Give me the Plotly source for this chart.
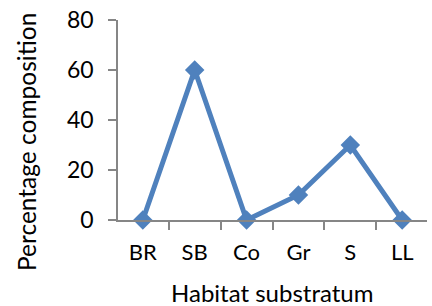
import plotly.graph_objects as go

categories = ["BR", "SB", "Co", "Gr", "S", "LL"]
values = [0, 60, 0, 10, 30, 0]
y_ticks = [0, 20, 40, 60, 80]

axis_color = "#868686"
font_family = "Lato, 'Open Sans', sans-serif"

fig = go.Figure(go.Scatter(
    x=categories, y=values, mode="lines+markers",
    line=dict(color="#4F81BD", width=5),
    marker=dict(symbol="diamond", size=15, color="#4F81BD"),
    cliponaxis=False,
))

fig.update_layout(
    width=432, height=306,
    margin=dict(l=118, r=5, t=20, b=86),
    paper_bgcolor="white", plot_bgcolor="white",
    showlegend=False,
    font=dict(family=font_family, size=23, color="black"),
    xaxis=dict(
        automargin=False,
        showline=True, linecolor=axis_color, linewidth=1.5,
        ticks="outside", tickson="boundaries", ticklen=8, tickcolor=axis_color, tickwidth=1.5,
        showgrid=False, zeroline=False,
        tickfont=dict(size=22),
        ticklabelstandoff=12,
    ),
    yaxis=dict(
        automargin=False,
        range=[0, 80], tickvals=y_ticks,
        showline=True, linecolor=axis_color, linewidth=1.5,
        ticks="outside", ticklen=8, tickcolor=axis_color, tickwidth=1.5,
        showgrid=False, zeroline=False,
        tickfont=dict(size=23),
        ticklabelstandoff=10,
    ),
    annotations=[
        dict(text="Habitat substratum", xref="paper", yref="paper",
             x=0.498, y=-0.36, xanchor="center", yanchor="middle",
             showarrow=False, font=dict(size=24)),
        dict(text="Percentage composition", xref="paper", yref="paper",
             x=(26 - 118) / 309, y=0.39, xanchor="center", yanchor="middle",
             textangle=-90, showarrow=False, font=dict(size=24.5)),
    ],
)

fig.write_html(
    "out.html",
    config={"displayModeBar": False},
    post_script="document.body.style.margin='0';document.body.style.overflow='hidden';",
)
